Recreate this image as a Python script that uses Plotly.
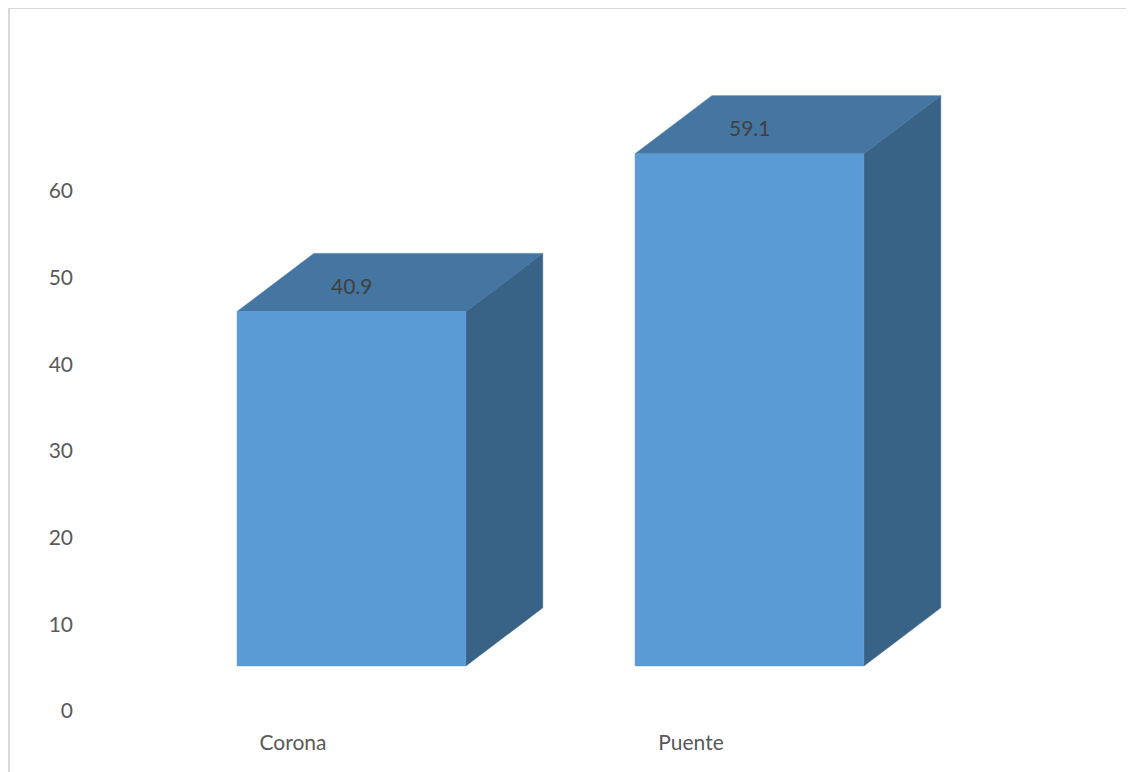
import plotly.graph_objects as go

# ---- data ----
categories = ["Corona", "Puente"]
values = [40.9, 59.1]
y_ticks = [0, 10, 20, 30, 40, 50, 60]
value_labels = ["40.9", "59.1"]

# ---- style constants (3D look) ----
FRONT_OFF = 0.147   # horizontal offset of front face from category position
BAR_W = 0.575       # bar width in category units
DEPTH_X = 0.193     # depth projection in x (category units)
BASE_Y = 5.2        # baseline offset of front face (axis units)
DEPTH_Y = 6.7       # depth projection in y (axis units)
FRONT_C = "#5B9BD5"
TOP_C = "#4575A1"
SIDE_C = "#386286"

PAGE_OFF = 8  # browser body margin
W, H = 1134 - PAGE_OFF, 772 - PAGE_OFF
ML, MR, MT, MB = 66, 14, 32, 44
PX_PER_UNIT = 8.667
Y0_PX = 711 - PAGE_OFF  # figure pixel of value 0
plot_h = H - MT - MB
plot_w = W - ML - MR
ymin = -((H - MB) - Y0_PX) / PX_PER_UNIT
ymax = (Y0_PX - MT) / PX_PER_UNIT
CAT_PX = 398.0
x0_px = 293 - PAGE_OFF
xmin = -(x0_px - ML) / CAT_PX
xmax = xmin + plot_w / CAT_PX

fig = go.Figure()
annotations = []
for i, (cat, v) in enumerate(zip(categories, values)):
    xl = i + FRONT_OFF - BAR_W / 2
    xr = xl + BAR_W
    yb = BASE_Y
    yt = BASE_Y + v
    # side face
    fig.add_trace(go.Scatter(
        x=[xr, xr + DEPTH_X, xr + DEPTH_X, xr, xr],
        y=[yb, yb + DEPTH_Y, yt + DEPTH_Y, yt, yb],
        fill="toself", fillcolor=SIDE_C, mode="lines",
        line=dict(color=SIDE_C, width=0.5), hoverinfo="skip", showlegend=False))
    # top face
    fig.add_trace(go.Scatter(
        x=[xl, xr, xr + DEPTH_X, xl + DEPTH_X, xl],
        y=[yt, yt, yt + DEPTH_Y, yt + DEPTH_Y, yt],
        fill="toself", fillcolor=TOP_C, mode="lines",
        line=dict(color=TOP_C, width=0.5), hoverinfo="skip", showlegend=False))
    # front face
    fig.add_trace(go.Scatter(
        x=[xl, xr, xr, xl, xl],
        y=[yb, yb, yt, yt, yb],
        fill="toself", fillcolor=FRONT_C, mode="lines",
        line=dict(color=FRONT_C, width=0.5), name=cat, showlegend=False))
    annotations.append(dict(
        x=i + FRONT_OFF, y=yt + 3.0, text=value_labels[i], showarrow=False,
        xref="x", yref="y", font=dict(family="Lato", size=21, color="#404040")))

# chart border (top and left visible)
bx = (1 - ML) / plot_w
by = ((H - MB) - 0) / plot_h
shapes = [
    dict(type="line", xref="paper", yref="paper", x0=bx, x1=(W - ML + 10) / plot_w,
         y0=by, y1=by, line=dict(color="#d9d9d9", width=2)),
    dict(type="line", xref="paper", yref="paper", x0=bx, x1=bx,
         y0=by, y1=-(MB + 10) / plot_h, line=dict(color="#d9d9d9", width=2)),
]

fig.update_layout(
    width=W, height=H,
    margin=dict(l=ML, r=MR, t=MT, b=MB),
    paper_bgcolor="white", plot_bgcolor="white",
    font=dict(family="Lato", size=21, color="#595959"),
    xaxis=dict(range=[xmin, xmax], tickvals=list(range(len(categories))),
               ticktext=categories, showgrid=False, zeroline=False,
               showline=False, ticks="", fixedrange=True),
    yaxis=dict(range=[ymin, ymax], tickvals=y_ticks,
               ticktext=[str(t) for t in y_ticks], showgrid=False,
               zeroline=False, showline=False, ticks="", fixedrange=True),
    annotations=annotations,
    shapes=shapes,
)

fig.write_html("out.html")
